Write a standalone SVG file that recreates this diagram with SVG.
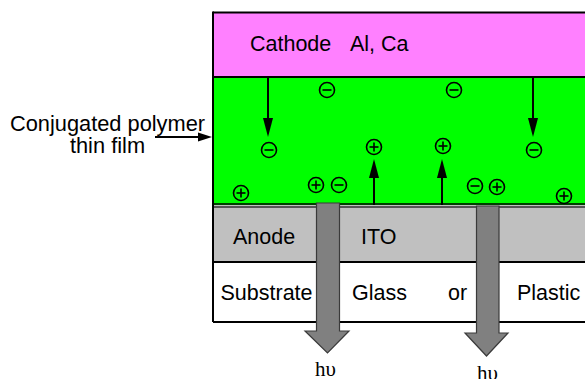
<svg xmlns="http://www.w3.org/2000/svg" width="585" height="379" viewBox="0 0 585 379">
<defs>
<style>
.t{font-family:"Liberation Sans",Arial,sans-serif;font-size:21.5px;fill:#000}
.lb{font-size:21.8px}
.hv{font-family:"Liberation Serif","Times New Roman",serif;font-size:21px;fill:#000}
.q{fill:none;stroke:#000;stroke-width:1.6}
.ln{stroke:#000;stroke-width:2;fill:none}
.big{fill:#808080;stroke:#3a3a3a;stroke-width:1.2}
</style>
<g id="neg"><circle r="7.5" class="q"/><line x1="-4.5" y1="0" x2="4.5" y2="0" class="q" stroke-width="2"/></g>
<g id="pos"><circle r="7.5" class="q"/><line x1="-4.5" y1="0" x2="4.5" y2="0" class="q" stroke-width="2"/><line x1="0" y1="-4.5" x2="0" y2="4.5" class="q" stroke-width="2"/></g>
</defs>
<rect width="585" height="379" fill="#fff"/>
<g id="cathode">
<rect x="213" y="12" width="380" height="65" fill="#ff80ff"/>
<text class="t" x="250" y="51">Cathode</text>
<text class="t" x="350" y="51">Al, Ca</text>
</g>
<g id="polymer">
<rect x="213" y="77" width="380" height="128" fill="#00ff00"/>
</g>
<g id="anode">
<rect x="213" y="205" width="380" height="57" fill="#c0c0c0"/>
<line x1="213" y1="204" x2="593" y2="204" stroke="#000" stroke-width="1.3"/>
<line x1="213" y1="207" x2="593" y2="207" stroke="#333" stroke-width="1.3"/>
<text class="t" x="233" y="244">Anode</text>
<text class="t" x="361" y="244">ITO</text>
</g>
<g id="substrate">
<rect x="213" y="262" width="380" height="60" fill="#fff"/>
<text class="t" x="220.5" y="300">Substrate</text>
<text class="t" x="352" y="300">Glass</text>
<text class="t" x="448" y="300">or</text>
<text class="t" x="517" y="300">Plastic</text>
</g>
<g id="frame">
<line x1="213" y1="12.5" x2="593" y2="12.5" class="ln"/>
<line x1="213" y1="77" x2="593" y2="77" class="ln" stroke-width="2.2"/>
<line x1="213" y1="262" x2="593" y2="262" class="ln"/>
<line x1="213" y1="322" x2="593" y2="322" class="ln" stroke-width="3"/>
<path d="M213,11.5 V322" class="ln" stroke-width="2.6"/>
</g>
<g id="charges">
<use href="#neg" x="327" y="90"/>
<use href="#neg" x="454" y="90"/>
<use href="#neg" x="269" y="150"/>
<use href="#neg" x="534" y="150"/>
<use href="#pos" x="374" y="147"/>
<use href="#pos" x="443" y="146"/>
<use href="#pos" x="241" y="193"/>
<use href="#pos" x="316" y="185"/>
<use href="#neg" x="339" y="185"/>
<use href="#neg" x="475" y="186"/>
<use href="#pos" x="497" y="187"/>
<use href="#pos" x="564" y="196"/>
</g>
<g id="connectors">
<line x1="268" y1="77" x2="268" y2="120" class="ln"/>
<polygon points="263,118 273,118 268,137"/>
<line x1="533" y1="77" x2="533" y2="120" class="ln"/>
<polygon points="528,118 538,118 533,137"/>
<line x1="374" y1="205" x2="374" y2="176" class="ln"/>
<polygon points="369,178 379,178 374,159"/>
<line x1="442" y1="205" x2="442" y2="176" class="ln"/>
<polygon points="437,178 447,178 442,159"/>
<line x1="155" y1="137" x2="200" y2="137" class="ln"/>
<polygon points="198,132.5 198,141.5 212,137"/>
</g>
<g id="light1">
<path class="big" d="M316.5,203 H339.5 V331 H349 L327.5,353 L305,331 H316.5 Z"/>
<text class="hv" x="315" y="376">hυ</text>
</g>
<g id="light2">
<path class="big" d="M476.5,206 H499 V333 H508 L486.5,356 L465,333 H476.5 Z"/>
<text class="hv" x="477" y="380">hυ</text>
</g>
<g id="label">
<text class="t lb" x="107.5" y="131" text-anchor="middle">Conjugated polymer</text>
<text class="t lb" x="107.5" y="153" text-anchor="middle">thin film</text>
</g>
</svg>
